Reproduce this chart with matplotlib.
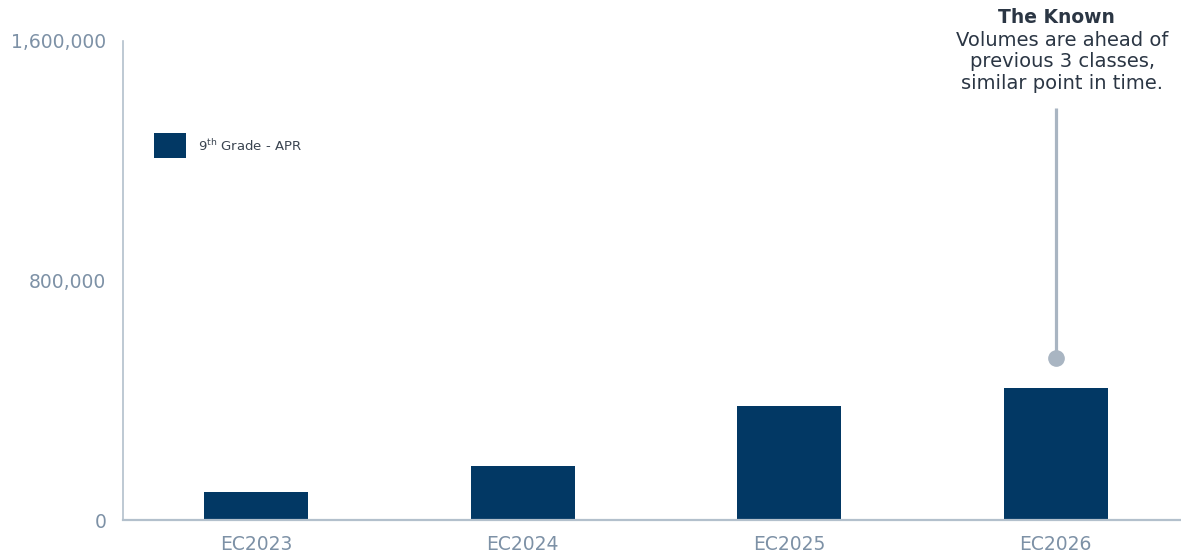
import matplotlib
matplotlib.use("Agg")
import matplotlib.pyplot as plt
from matplotlib.patches import Rectangle

# class volumes at the same point in the cycle
classes = ["EC2023", "EC2024", "EC2025", "EC2026"]
volumes = [94000, 180000, 381000, 440000]
series_label = r"9$^{\mathrm{th}}$ Grade - APR"
y_ticks = [0, 800000, 1600000]

# callout on the latest class
callout_x = 3
callout_dot = 540000
callout_top = 1376000
callout_title = "The Known"
callout_body = "Volumes are ahead of\nprevious 3 classes,\nsimilar point in time."

NAVY = "#023864"
AXIS_GREY = "#b3c0cc"
TICK_GREY = "#7d91a6"
DOT_GREY = "#a9b5c2"
TEXT_DARK = "#2b3644"

plt.rcParams["font.family"] = ["DejaVu Sans"]
plt.rcParams["mathtext.fontset"] = "dejavusans"

W, H = 1181, 554
fig = plt.figure(figsize=(W / 100, H / 100), dpi=100)
ax = fig.add_axes([123 / W, 34 / H, 1066 / W, 479 / H])

x = list(range(len(classes)))
ax.bar(x, volumes, width=0.39, color=NAVY, zorder=2)

ax.set_xlim(-0.5, 3.5)
ax.set_ylim(0, 1600000)
ax.set_xticks(x)
ax.set_xticklabels(classes)
ax.set_yticks(y_ticks)
ax.set_yticklabels([f"{v:,}" for v in y_ticks])
ax.tick_params(axis="both", length=0, labelsize=13.5, colors=TICK_GREY)
ax.tick_params(axis="x", pad=11)
ax.tick_params(axis="y", pad=12)

for side in ("top", "right"):
    ax.spines[side].set_visible(False)
ax.spines["left"].set_color(AXIS_GREY)
ax.spines["left"].set_linewidth(1.2)
ax.spines["bottom"].set_color(AXIS_GREY)
ax.spines["bottom"].set_linewidth(1.6)

# legend swatch and label
fig.patches.append(Rectangle((154 / W, 1 - 158 / H), 32 / W, 25 / H,
                             transform=fig.transFigure, facecolor=NAVY,
                             edgecolor="none"))
fig.text(198 / W, 1 - 146 / H, series_label, fontsize=9.5, color="#3a4450",
         va="center", ha="left")

# callout stem and dot
ax.plot([callout_x, callout_x], [callout_dot, callout_top], color=DOT_GREY,
        lw=2.3, solid_capstyle="butt", zorder=3, clip_on=False)
ax.plot([callout_x], [callout_dot], marker="o", markersize=11,
        color=DOT_GREY, zorder=4, clip_on=False)

fig.text(1056 / W, 1 - 8 / H, callout_title, fontsize=13.5, weight="bold",
         color=TEXT_DARK, ha="center", va="top")
fig.text(1062 / W, 1 - 31 / H, callout_body, fontsize=14, color=TEXT_DARK,
         ha="center", va="top", multialignment="center", linespacing=1.16)

fig.savefig("out.png", dpi=100)
